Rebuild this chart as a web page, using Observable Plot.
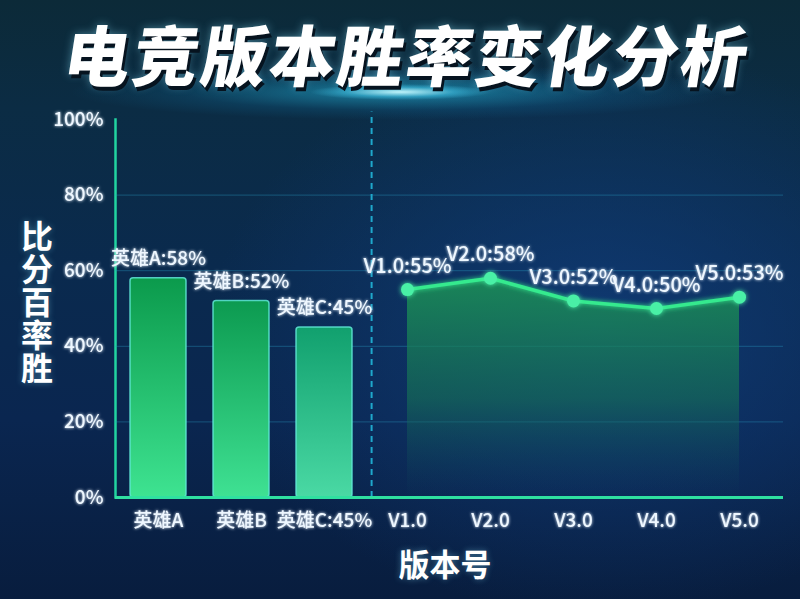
<!DOCTYPE html>
<html>
<head>
<meta charset="utf-8">
<script src="https://cdn.jsdelivr.net/npm/d3@7"></script>
<script src="https://cdn.jsdelivr.net/npm/@observablehq/plot@0.6"></script>
<style>
html,body{margin:0;padding:0;}
body{
  width:800px;height:599px;overflow:hidden;position:relative;
  font-family:"Noto Sans CJK SC",sans-serif;
  background:
    radial-gradient(ellipse 90px 8px at 400px 92px, rgba(200,250,255,0.95), rgba(80,220,255,0.4) 60%, transparent 100%),
    radial-gradient(ellipse 330px 28px at 400px 92px, rgba(40,200,240,0.55), rgba(20,150,210,0.15) 65%, transparent 100%),
    radial-gradient(ellipse 520px 380px at 600px 330px, rgba(16,60,120,0.85), transparent 75%),
    linear-gradient(180deg,#0c2a38 0%,#0b2c44 18%,#0a2a4e 45%,#0a2650 70%,#081d3e 100%);
}
#title{
  position:absolute;left:8px;top:4px;width:800px;text-align:center;
  font-size:66px;font-weight:900;color:#fff;letter-spacing:2.5px;
  transform:skewX(-9deg);
  text-shadow:3px 4px 0 #06131f, 0 0 10px rgba(140,230,255,0.45);
}
#ylabel{
  position:absolute;left:14px;top:220px;
  writing-mode:vertical-rl;text-orientation:upright;
  font-size:32px;font-weight:700;color:#fff;letter-spacing:1px;
  text-shadow:0 0 6px rgba(140,230,255,0.4);
}
#xlabel{
  position:absolute;left:0;width:890px;text-align:center;top:540px;
  font-size:31px;font-weight:700;color:#fff;
  text-shadow:0 0 6px rgba(140,230,255,0.4);
}
#chart{position:absolute;left:0;top:100px;}
#chart svg{background:transparent;overflow:visible;}
#chart svg text{fill:#eef7ff;}
</style>
</head>
<body>
<div id="title">电竞版本胜率变化分析</div>
<div id="ylabel">比分百率胜</div>
<div id="xlabel">版本号</div>
<div id="chart"></div>
<script>
// ---- data ----
const heroes = ["英雄A", "英雄B", "英雄C:45%"];
const heroRates = [58, 52, 45];
const heroLabels = ["英雄A:58%", "英雄B:52%", "英雄C:45%"];
const versions = ["V1.0", "V2.0", "V3.0", "V4.0", "V5.0"];
const versionRates = [55, 58, 52, 50, 53];
const versionLabels = ["V1.0:55%", "V2.0:58%", "V3.0:52%", "V4.0:50%", "V5.0:53%"];
const yTicks = [0, 20, 40, 60, 80, 100];
const gridTicks = [20, 40, 60, 80];

const heroData = heroes.map((h, i) => ({cat: h, rate: heroRates[i], label: heroLabels[i], grad: `url(#barGrad${i})`}));
const versionData = versions.map((v, i) => ({cat: v, rate: versionRates[i], label: versionLabels[i]}));

const W = 800, mL = 115, mR = 17;
const domainX = heroes.concat(versions);
const step = (W - mL - mR) / domainX.length;
const labelFont = "'Noto Sans CJK SC',sans-serif";

const chart = Plot.plot({
  width: W,
  height: 442,
  marginLeft: mL,
  marginRight: mR,
  marginTop: 19,
  marginBottom: 45,
  style: {color: "#22d4a0", fontFamily: labelFont, fontSize: "19px", fontWeight: 500, background: "transparent", overflow: "visible"},
  x: {domain: domainX, paddingInner: 0.32, paddingOuter: 0.16, label: null, tickSize: 0, tickPadding: 16},
  y: {domain: [0, 100], ticks: yTicks, tickFormat: d => d + "%", tickSize: 0, tickPadding: 12, label: null, line: true},
  color: {type: "identity"},
  marks: [
    Plot.ruleY(gridTicks, {stroke: "#2a9cc0", strokeOpacity: 0.4, strokeWidth: 1}),
    Plot.ruleX([versions[0]], {dx: -step * 0.43, stroke: "#1fa8cc", strokeWidth: 2, strokeDasharray: "6,5", y1: 0, y2: 102}),
    Plot.barY(heroData, {x: "cat", y: "rate", fill: "grad", stroke: "#5fe8d6", strokeWidth: 1.5, strokeOpacity: 0.85, rx: 3}),
    Plot.areaY(versionData, {x: "cat", y: "rate", fill: "url(#areaGrad)"}),
    Plot.lineY(versionData, {x: "cat", y: "rate", stroke: "#34ea8e", strokeWidth: 3.5}),
    Plot.dot(versionData, {x: "cat", y: "rate", r: 6.5, fill: "#48f0a6"}),
    Plot.ruleY([0], {stroke: "#2fe0a0", strokeWidth: 3}),
    Plot.text(heroData, {x: "cat", y: "rate", text: "label", lineAnchor: "bottom", dy: -13, fontSize: 19, fontWeight: 500, fill: "#f2f8ff", fontFamily: labelFont}),
    Plot.text(versionData, {x: "cat", y: "rate", text: "label", lineAnchor: "bottom", dy: -17, fontSize: 20, fontWeight: 500, fill: "#f2f8ff", fontFamily: labelFont})
  ]
});

document.getElementById("chart").appendChild(chart);

const svg = d3.select(chart);
const defs = svg.insert("defs", ":first-child");
const barStops = [["#0b9a4c", "#3ee391"], ["#0c9a50", "#3fe193"], ["#11a06e", "#4ad9a4"]];
barStops.forEach((s, i) => {
  const g = defs.append("linearGradient").attr("id", "barGrad" + i).attr("x1", 0).attr("y1", 0).attr("x2", 0).attr("y2", 1);
  g.append("stop").attr("offset", "0%").attr("stop-color", s[0]);
  g.append("stop").attr("offset", "100%").attr("stop-color", s[1]);
});
const ag = defs.append("linearGradient").attr("id", "areaGrad").attr("x1", 0).attr("y1", 0).attr("x2", 0).attr("y2", 1);
ag.append("stop").attr("offset", "0%").attr("stop-color", "#1c9456").attr("stop-opacity", 0.85);
ag.append("stop").attr("offset", "55%").attr("stop-color", "#167456").attr("stop-opacity", 0.6);
ag.append("stop").attr("offset", "100%").attr("stop-color", "#0f4a5e").attr("stop-opacity", 0.0);
const f = defs.append("filter").attr("id", "glow").attr("x", "-50%").attr("y", "-50%").attr("width", "200%").attr("height", "200%");
f.append("feGaussianBlur").attr("stdDeviation", 2.5).attr("result", "b");
const m = f.append("feMerge");
m.append("feMergeNode").attr("in", "b");
m.append("feMergeNode").attr("in", "SourceGraphic");
const tf = defs.append("filter").attr("id", "tglow").attr("x", "-20%").attr("y", "-50%").attr("width", "140%").attr("height", "200%");
tf.append("feGaussianBlur").attr("stdDeviation", 1.5).attr("result", "b");
const tm = tf.append("feMerge");
tm.append("feMergeNode").attr("in", "b");
tm.append("feMergeNode").attr("in", "SourceGraphic");

svg.selectAll('g[aria-label="line"], g[aria-label="dot"]').attr("filter", "url(#glow)");
svg.selectAll("text").attr("filter", "url(#tglow)");
// thicken the y-axis line drawn by Plot (the vertical line at the left frame edge)
svg.selectAll("line, path").filter(function () {
  const b = this.getBBox();
  return b.width < 2 && Math.abs(b.x - mL) < 3 && b.height > 300;
}).attr("stroke", "#22d4a0").attr("stroke-width", 2.5).attr("stroke-opacity", 1);
</script>
</body>
</html>
